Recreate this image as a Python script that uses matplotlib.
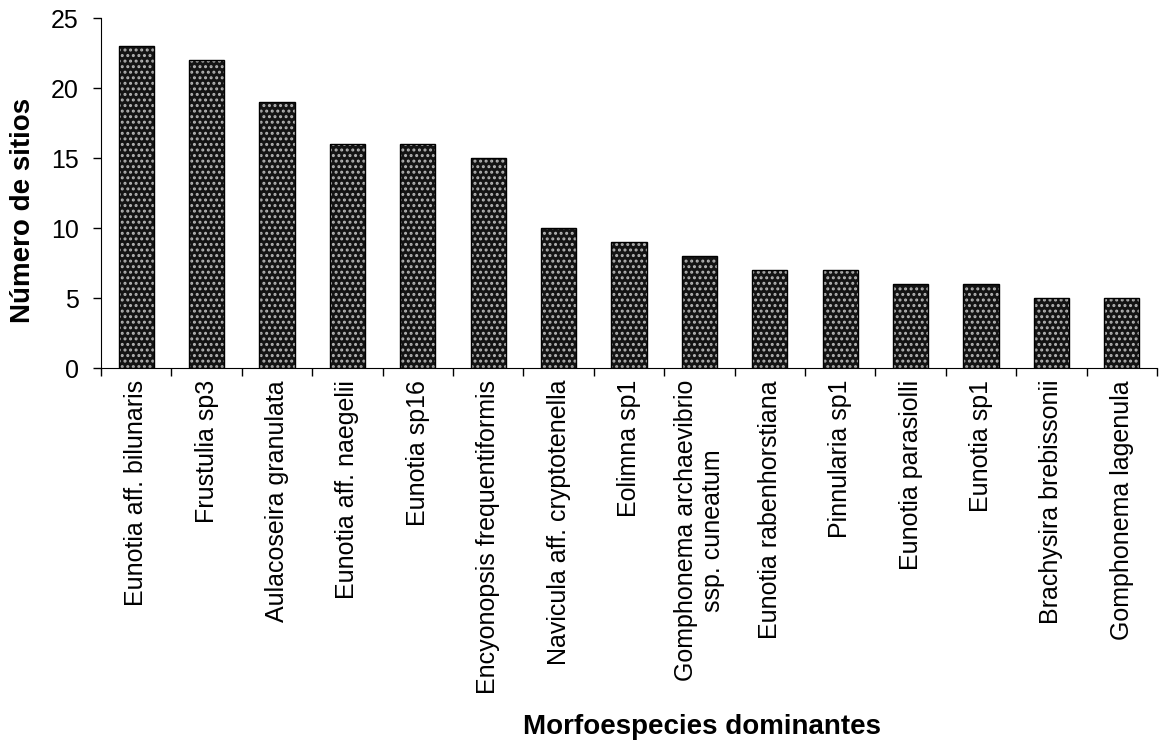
import matplotlib
matplotlib.use("Agg")
import matplotlib.pyplot as plt
import numpy as np

species = [
    "Eunotia aff. bilunaris", "Frustulia sp3", "Aulacoseira granulata",
    "Eunotia aff. naegelii", "Eunotia sp16", "Encyonopsis frequentiformis",
    "Navicula aff. cryptotenella", "Eolimna sp1",
    "Gomphonema archaevibrio\nssp. cuneatum", "Eunotia rabenhorstiana",
    "Pinnularia sp1", "Eunotia parasiolli", "Eunotia sp1",
    "Brachysira brebissonii", "Gomphonema lagenula",
]
sites = [23, 22, 19, 16, 16, 15, 10, 9, 8, 7, 7, 6, 6, 5, 5]
y_ticks = [0, 5, 10, 15, 20, 25]

plt.rcParams["font.family"] = ["Liberation Sans", "DejaVu Sans"]
plt.rcParams["hatch.linewidth"] = 1.4

W, H = 1159, 745
fig = plt.figure(figsize=(W / 100, H / 100), dpi=100)
ax = fig.add_axes([101 / W, 377 / H, 1056 / W, 350 / H])

x = np.arange(len(species))
# dotted fill: near-black face with light gray hatch, then black outline on top
ax.bar(x, sites, width=0.5, color="#141414", edgecolor="#b4b4b4", hatch="...", linewidth=0)
ax.bar(x, sites, width=0.5, fill=False, edgecolor="black", linewidth=1.0)

ax.set_xlim(-0.5, len(species) - 0.5)
ax.set_ylim(0, 25)
ax.set_yticks(y_ticks)
ax.tick_params(axis="y", labelsize=18, direction="out", length=6, width=1, pad=10)

ax.set_xticks(np.arange(len(species) + 1) - 0.5)
ax.set_xticklabels([])
ax.tick_params(axis="x", direction="out", length=6, width=1)
for i, name in enumerate(species):
    ax.text(i, -0.85, name, rotation=90, ha="center", va="top", fontsize=18,
            multialignment="center")

for s in ("top", "right"):
    ax.spines[s].set_visible(False)

fig.text(23 / W, 1 - 210 / H, "Número de sitios", rotation=90, ha="center",
         va="center", fontsize=20, fontweight="bold")
fig.text(702 / W, 1 - 727 / H, "Morfoespecies dominantes",
         ha="center", va="center", fontsize=20, fontweight="bold")

fig.savefig("out.png", dpi=100, facecolor="white")
